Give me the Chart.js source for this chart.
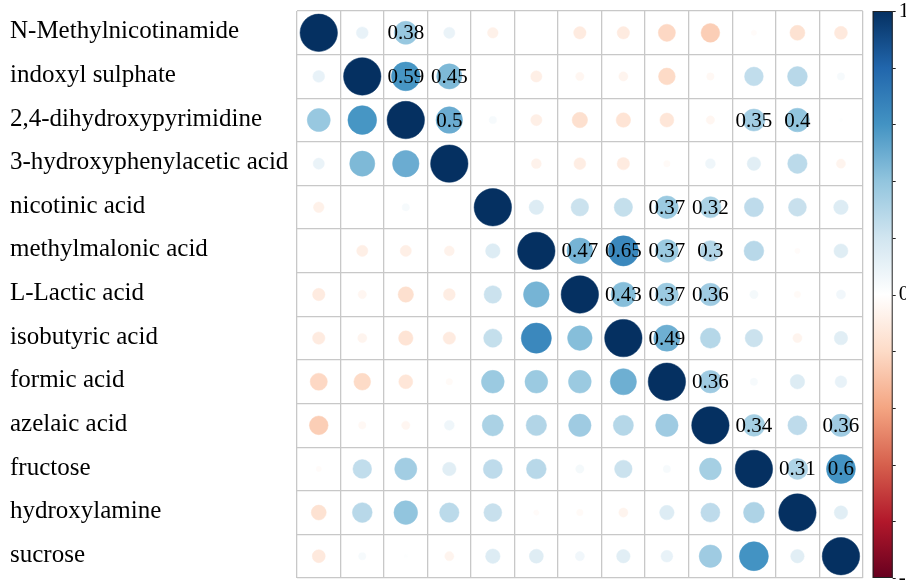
<!DOCTYPE html>
<html>
<head>
<meta charset="utf-8">
<title>Metabolite correlation matrix</title>
<style>
  html, body { margin: 0; padding: 0; background: #ffffff; }
  #c { display: block; }
</style>
<script src="https://cdn.jsdelivr.net/npm/chart.js@4/dist/chart.umd.min.js"></script>
</head>
<body>
<canvas id="c" width="906" height="580"></canvas>
<script>
// Metabolites, in matrix order (rows top to bottom, columns left to right)
const variables = [
  'N-Methylnicotinamide',
  'indoxyl sulphate',
  '2,4-dihydroxypyrimidine',
  '3-hydroxyphenylacetic acid',
  'nicotinic acid',
  'methylmalonic acid',
  'L-Lactic acid',
  'isobutyric acid',
  'formic acid',
  'azelaic acid',
  'fructose',
  'hydroxylamine',
  'sucrose'
];

// Pairwise correlation coefficients (symmetric)
const corr = [
  [ 1.00,  0.10,  0.38,  0.09, -0.08,  0.00, -0.11, -0.11, -0.21, -0.25, -0.02, -0.16, -0.12],
  [ 0.10,  1.00,  0.59,  0.45,  0.00, -0.09, -0.05, -0.06, -0.20, -0.04,  0.25,  0.28,  0.04],
  [ 0.38,  0.59,  1.00,  0.50,  0.04, -0.09, -0.17, -0.15, -0.14, -0.05,  0.35,  0.40,  0.01],
  [ 0.09,  0.45,  0.50,  1.00,  0.00, -0.07, -0.10, -0.11, -0.03,  0.07,  0.13,  0.27, -0.06],
  [-0.08,  0.00,  0.04,  0.00,  1.00,  0.15,  0.22,  0.24,  0.37,  0.32,  0.26,  0.23,  0.15],
  [ 0.00, -0.09, -0.09, -0.07,  0.15,  1.00,  0.47,  0.65,  0.37,  0.30,  0.28, -0.02,  0.14],
  [-0.11, -0.05, -0.17, -0.10,  0.22,  0.47,  1.00,  0.43,  0.37,  0.36,  0.05, -0.03,  0.06],
  [-0.11, -0.06, -0.15, -0.11,  0.24,  0.65,  0.43,  1.00,  0.49,  0.29,  0.22, -0.06,  0.13],
  [-0.21, -0.20, -0.14, -0.03,  0.37,  0.37,  0.37,  0.49,  1.00,  0.36,  0.04,  0.15,  0.10],
  [-0.25, -0.04, -0.05,  0.07,  0.32,  0.30,  0.36,  0.29,  0.36,  1.00,  0.34,  0.26,  0.36],
  [-0.02,  0.25,  0.35,  0.13,  0.26,  0.28,  0.05,  0.22,  0.04,  0.34,  1.00,  0.31,  0.60],
  [-0.16,  0.28,  0.40,  0.27,  0.23, -0.02, -0.03, -0.06,  0.15,  0.26,  0.31,  1.00,  0.13],
  [-0.12,  0.04,  0.01, -0.06,  0.15,  0.14,  0.06,  0.13,  0.10,  0.36,  0.60,  0.13,  1.00]
];

// Coefficients at or above this magnitude are printed in the upper triangle
const labelThreshold = 0.3;

// Colour bar range and the tick values that carry a text label
const legendMin = -1;
const legendMax = 1;
const legendStep = 0.2;
const legendLabels = [-1, 0, 1];

// Diverging red-white-blue palette from -1 to +1
const palette = ['#67001F', '#B2182B', '#D6604D', '#F4A582', '#FDDBC7', '#FFFFFF',
                 '#D1E5F0', '#92C5DE', '#4393C3', '#2166AC', '#053061'];

function hexToRgb(h) {
  const n = parseInt(h.slice(1), 16);
  return [(n >> 16) & 255, (n >> 8) & 255, n & 255];
}
const paletteRgb = palette.map(hexToRgb);

function colorFor(v) {
  const n = paletteRgb.length;
  const t = (Math.max(-1, Math.min(1, v)) + 1) / 2 * (n - 1);
  const i = Math.min(Math.floor(t), n - 2);
  const f = t - i;
  const a = paletteRgb[i], b = paletteRgb[i + 1];
  const c = a.map((av, k) => Math.round(av + (b[k] - av) * f));
  return `rgb(${c[0]},${c[1]},${c[2]})`;
}

function formatCoef(v) {
  return String(Math.round(v * 100) / 100);
}

// One point per matrix cell
const cells = [];
corr.forEach((row, i) => {
  row.forEach((v, j) => {
    cells.push({ x: variables[j], y: variables[i], v: v, row: i, col: j });
  });
});

const serif = '"Liberation Serif", "Times New Roman", Times, serif';
const gridColor = '#c8c8c8';

// Circle radius: area proportional to |r|, nearly the full cell for |r| = 1
function cellRadius(c) {
  if (!c.raw) return 0;
  const xs = c.chart.scales.x;
  if (!xs) return 0;
  const cell = Math.abs(xs.getPixelForValue(1) - xs.getPixelForValue(0));
  if (!isFinite(cell)) return 0;
  return 0.43 * cell * Math.sqrt(Math.abs(c.raw.v));
}

function cellColor(c) {
  return c.raw ? colorFor(c.raw.v) : 'rgba(0,0,0,0)';
}

// Printed coefficients on top of the upper-triangle circles
const coefLabels = {
  id: 'coefLabels',
  afterDatasetsDraw(chart) {
    const meta = chart.getDatasetMeta(0);
    const ctx = chart.ctx;
    ctx.save();
    ctx.font = `21px ${serif}`;
    ctx.fillStyle = '#000000';
    ctx.textAlign = 'center';
    ctx.textBaseline = 'middle';
    meta.data.forEach((el, k) => {
      const d = cells[k];
      if (d.col > d.row && Math.abs(d.v) >= labelThreshold) {
        ctx.fillText(formatCoef(d.v), el.x, el.y + 1);
      }
    });
    ctx.restore();
  }
};

// Gradient colour bar drawn inside the right-hand scale
const colorBar = {
  id: 'colorBar',
  afterDraw(chart) {
    const s = chart.scales.cb;
    const ctx = chart.ctx;
    const x0 = s.left + 10;
    const w = 20;
    const top = s.getPixelForValue(legendMax);
    const bottom = s.getPixelForValue(legendMin);
    const g = ctx.createLinearGradient(0, bottom, 0, top);
    palette.forEach((c, k) => g.addColorStop(k / (palette.length - 1), c));
    ctx.save();
    ctx.fillStyle = g;
    ctx.fillRect(x0, top, w, bottom - top);
    ctx.strokeStyle = '#222222';
    ctx.lineWidth = 1;
    ctx.strokeRect(x0 + 0.5, top + 0.5, w - 1, bottom - top - 1);
    ctx.beginPath();
    s.ticks.forEach(t => {
      const y = Math.round(s.getPixelForValue(t.value)) + 0.5;
      ctx.moveTo(x0 + w, y);
      ctx.lineTo(x0 + w + 3, y);
    });
    ctx.stroke();
    ctx.restore();
  }
};

new Chart(document.getElementById('c'), {
  type: 'scatter',
  data: {
    datasets: [{
      data: cells,
      clip: false,
      showLine: false,
      pointStyle: 'circle',
      pointBackgroundColor: cellColor,
      pointBorderColor: cellColor,
      pointBorderWidth: 0.5,
      pointRadius: cellRadius,
      pointHoverRadius: cellRadius
    }]
  },
  options: {
    responsive: false,
    devicePixelRatio: 1,
    animation: false,
    events: [],
    layout: { padding: { left: 10, top: 11, right: 0, bottom: 2 } },
    plugins: {
      legend: { display: false },
      tooltip: { enabled: false }
    },
    scales: {
      x: {
        type: 'category',
        labels: variables,
        position: 'bottom',
        offset: true,
        grid: { offset: true, color: gridColor, lineWidth: 1.3, drawTicks: false },
        border: { display: false },
        ticks: { display: false },
        afterFit(s) { s.height = 0; s.paddingLeft = 0; s.paddingRight = 0; }
      },
      y: {
        type: 'category',
        labels: variables,
        position: 'left',
        offset: true,
        grid: { offset: true, color: gridColor, lineWidth: 1.3, drawTicks: false },
        border: { display: false },
        ticks: {
          autoSkip: false,
          crossAlign: 'far',
          padding: 0,
          labelOffset: -1,
          color: '#000000',
          font: { family: serif, size: 25 }
        },
        afterFit(s) { s.width = 287; s.paddingTop = 0; s.paddingBottom = 0; }
      },
      cb: {
        type: 'linear',
        position: 'right',
        min: legendMin,
        max: legendMax,
        grid: { drawOnChartArea: false, drawTicks: false },
        border: { display: false },
        ticks: {
          stepSize: legendStep,
          autoSkip: false,
          padding: 36,
          color: '#000000',
          font: { family: serif, size: 21 },
          callback: v => {
            const r = Math.round(v * 10) / 10;
            return legendLabels.includes(r) ? String(r) : '';
          }
        },
        afterFit(s) { s.width = 43.3; s.paddingTop = 0; s.paddingBottom = 0; }
      }
    }
  },
  plugins: [coefLabels, colorBar]
});
</script>
</body>
</html>
